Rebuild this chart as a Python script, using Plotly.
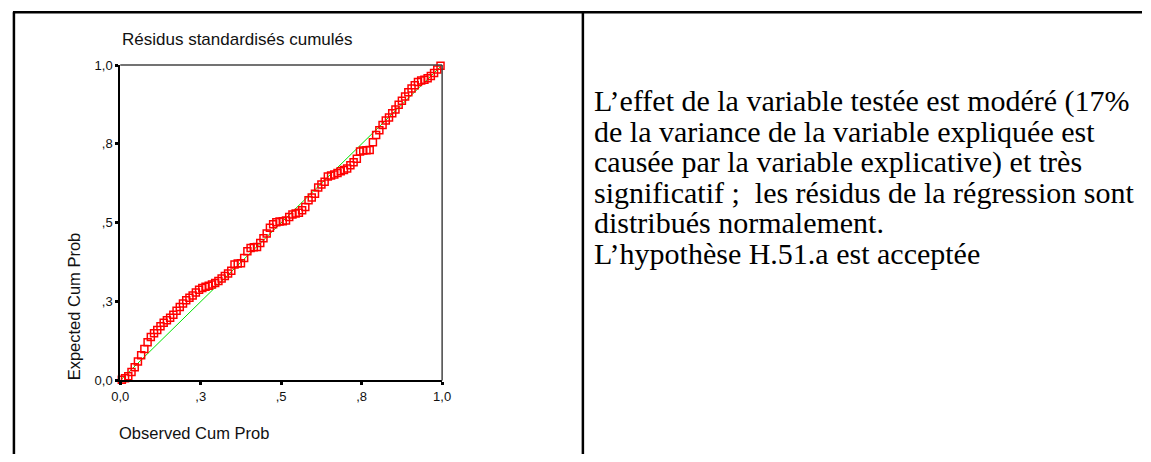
import plotly.graph_objects as go

W, H = 1151, 462

# P-P plot of standardized regression residuals
observed_cum_prob = [
    0.005, 0.015, 0.025, 0.035, 0.045, 0.055, 0.065, 0.075, 0.085, 0.095,
    0.105, 0.115, 0.125, 0.135, 0.145, 0.155, 0.165, 0.175, 0.185, 0.195,
    0.205, 0.215, 0.225, 0.235, 0.245, 0.255, 0.265, 0.275, 0.285, 0.295,
    0.305, 0.315, 0.325, 0.335, 0.345, 0.355, 0.365, 0.375, 0.385, 0.395,
    0.405, 0.415, 0.425, 0.435, 0.445, 0.455, 0.465, 0.475, 0.485, 0.495,
    0.505, 0.515, 0.525, 0.535, 0.545, 0.555, 0.565, 0.575, 0.585, 0.595,
    0.605, 0.615, 0.625, 0.635, 0.645, 0.655, 0.665, 0.675, 0.685, 0.695,
    0.705, 0.715, 0.725, 0.735, 0.745, 0.755, 0.765, 0.775, 0.785, 0.795,
    0.805, 0.815, 0.825, 0.835, 0.845, 0.855, 0.865, 0.875, 0.885, 0.895,
    0.905, 0.915, 0.925, 0.935, 0.945, 0.955, 0.965, 0.975, 0.985, 0.995,
]
expected_cum_prob = [
    0.002, 0.007, 0.013, 0.027, 0.042, 0.060, 0.080, 0.100, 0.121, 0.138,
    0.150, 0.160, 0.172, 0.183, 0.191, 0.199, 0.208, 0.221, 0.233, 0.244,
    0.254, 0.262, 0.269, 0.279, 0.288, 0.293, 0.297, 0.300, 0.304, 0.309,
    0.315, 0.323, 0.331, 0.339, 0.348, 0.368, 0.371, 0.372, 0.388, 0.410,
    0.420, 0.422, 0.423, 0.436, 0.451, 0.466, 0.484, 0.495, 0.502, 0.504,
    0.505, 0.507, 0.518, 0.526, 0.529, 0.532, 0.540, 0.550, 0.571, 0.580,
    0.592, 0.612, 0.621, 0.630, 0.647, 0.650, 0.653, 0.658, 0.663, 0.667,
    0.672, 0.682, 0.692, 0.703, 0.726, 0.729, 0.730, 0.731, 0.755, 0.778,
    0.793, 0.810, 0.824, 0.834, 0.847, 0.859, 0.874, 0.887, 0.900, 0.914,
    0.926, 0.936, 0.946, 0.951, 0.953, 0.958, 0.965, 0.975, 0.986, 0.998,
]

# reference diagonal
diag_x = [0.0, 1.0]
diag_y = [0.0, 1.0]

tick_vals = [0.0, 0.25, 0.5, 0.75, 1.0]
tick_text = ["0,0", ",3", ",5", ",8", "1,0"]

chart_title = "Résidus standardisés cumulés"
x_title = "Observed Cum Prob"
y_title = "Expected Cum Prob"

comment_lines = [
    "L\u2019effet de la variable testée est modéré (17%",
    "de la variance de la variable expliquée est",
    "causée par la variable explicative) et très",
    "significatif ;\u00a0 les résidus de la régression sont",
    "distribués normalement.",
    "L\u2019hypothèse H.51.a est acceptée",
]


def px_x(p):
    return p / W


def px_y(p):
    return 1 - p / H


SANS = "Liberation Sans, Arial, sans-serif"
SERIF = "Liberation Serif, Times New Roman, serif"

fig = go.Figure()
fig.add_trace(go.Scatter(
    x=diag_x, y=diag_y, mode="lines",
    line=dict(color="#00e000", width=1),
    hoverinfo="skip", showlegend=False,
))
fig.add_trace(go.Scatter(
    x=observed_cum_prob, y=expected_cum_prob, mode="markers",
    marker=dict(symbol="square-open", size=7, color="#ff0000",
                line=dict(color="#ff0000", width=1.5)),
    cliponaxis=False, showlegend=False,
))

axis_common = dict(
    range=[0, 1], tickvals=tick_vals, ticktext=tick_text,
    showgrid=False, zeroline=False, showline=True,
    linecolor="#000000", linewidth=2,
    ticks="outside", ticklen=3, tickwidth=3, tickcolor="#000000",
    tickfont=dict(family=SANS, size=13, color="#111111"),
    fixedrange=True,
)

fig.update_layout(
    width=W, height=H,
    margin=dict(l=0, r=0, t=0, b=0),
    paper_bgcolor="white", plot_bgcolor="white",
    xaxis=dict(domain=[px_x(113), px_x(440)], **axis_common),
    yaxis=dict(domain=[px_y(386), px_y(60)], **axis_common),
)

# top and right sides of the frame
frame = dict(color="#444444", width=1.5)
fig.add_shape(type="line", xref="x domain", yref="y domain",
              x0=0, x1=1, y0=1, y1=1, line=frame)
fig.add_shape(type="line", xref="x domain", yref="y domain",
              x0=1, x1=1, y0=0, y1=1, line=frame)

# table borders
border = dict(color="#000000", width=2.5)
fig.add_shape(type="line", xref="paper", yref="paper",
              x0=px_x(4), x1=1, y0=px_y(5.5), y1=px_y(5.5), line=border)
fig.add_shape(type="line", xref="paper", yref="paper",
              x0=px_x(5), x1=px_x(5), y0=0, y1=px_y(5.5), line=border)
fig.add_shape(type="line", xref="paper", yref="paper",
              x0=px_x(583), x1=px_x(583), y0=0, y1=px_y(5.5), line=border)

fig.add_annotation(text=chart_title, xref="paper", yref="paper",
                   x=px_x(113), y=px_y(34), xanchor="left", yanchor="middle",
                   showarrow=False, font=dict(family=SANS, size=17, color="#111111"))
fig.add_annotation(text=x_title, xref="paper", yref="paper",
                   x=px_x(110), y=px_y(440), xanchor="left", yanchor="middle",
                   showarrow=False, font=dict(family=SANS, size=16.5, color="#111111"))
fig.add_annotation(text=y_title, xref="paper", yref="paper", textangle=-90,
                   x=px_x(66), y=px_y(388), xanchor="center", yanchor="bottom",
                   showarrow=False, font=dict(family=SANS, size=16.5, color="#111111"))

for i, line in enumerate(comment_lines):
    fig.add_annotation(text=line, xref="paper", yref="paper",
                       x=px_x(592), y=px_y(97 + 31.5 * i),
                       xanchor="left", yanchor="middle", showarrow=False,
                       font=dict(family=SERIF, size=30, color="#000000"))

fig.write_html("out.html")
